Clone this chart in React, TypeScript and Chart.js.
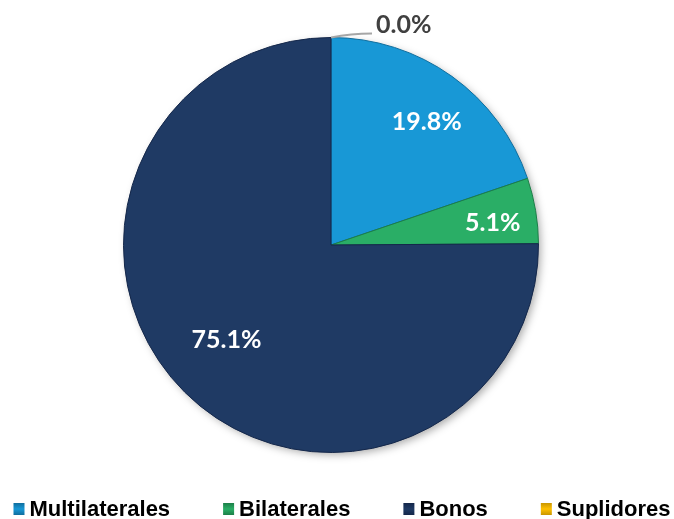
import React, { useEffect, useRef } from "react";
import { Chart, registerables } from "chart.js";

Chart.register(...registerables);

const categories = ["Multilaterales", "Bilaterales", "Bonos", "Suplidores"];
const shares = [19.8, 5.1, 75.1, 0.0];
const valueLabels = ["19.8%", "5.1%", "75.1%", "0.0%"];
const sliceColors = ["#1898D6", "#2AAE66", "#1F3A64", "#FFC000"];
const sliceBorders = ["#0F6E9E", "#1C7F48", "#14274A", "#C99600"];

const labelFractions = [0.75, 0.79, 0.68, 1];
const labelNudges = [
  [5, 3],
  [0, 5],
  [-5, -5],
  [0, 0],
];

const piePlugin = {
  id: "pieDecor",
  beforeDatasetsDraw(chart: any) {
    const meta = chart.getDatasetMeta(0);
    const arc = meta.data[0];
    if (!arc) return;
    const { x, y, outerRadius } = arc.getProps(["x", "y", "outerRadius"], true);
    const ctx = chart.ctx;
    ctx.save();
    ctx.shadowColor = "rgba(0,0,0,0.35)";
    ctx.shadowBlur = 8;
    ctx.shadowOffsetX = 3;
    ctx.shadowOffsetY = 3;
    ctx.beginPath();
    ctx.arc(x, y, outerRadius - 1, 0, Math.PI * 2);
    ctx.fillStyle = "#1F3A64";
    ctx.fill();
    ctx.restore();
  },
  afterDatasetsDraw(chart: any) {
    const meta = chart.getDatasetMeta(0);
    const ctx = chart.ctx;
    ctx.save();
    ctx.font = "bold 25px Lato, 'Open Sans', sans-serif";
    ctx.textBaseline = "middle";
    meta.data.forEach((el: any, i: number) => {
      const { x, y, startAngle, endAngle, outerRadius } = el.getProps(
        ["x", "y", "startAngle", "endAngle", "outerRadius"],
        true
      );
      const mid = (startAngle + endAngle) / 2;
      if (shares[i] > 0) {
        const r = outerRadius * labelFractions[i];
        ctx.fillStyle = "#FFFFFF";
        ctx.textAlign = "center";
        ctx.fillText(
          valueLabels[i],
          x + r * Math.cos(mid) + labelNudges[i][0],
          y + r * Math.sin(mid) + labelNudges[i][1]
        );
      } else {
        const sx = x + outerRadius * Math.cos(mid);
        const sy = y + outerRadius * Math.sin(mid);
        ctx.strokeStyle = "#A6A6A6";
        ctx.lineWidth = 2;
        ctx.beginPath();
        ctx.moveTo(sx, sy);
        ctx.quadraticCurveTo(sx + 20, sy - 4, sx + 41, sy - 4);
        ctx.stroke();
        ctx.fillStyle = "#404040";
        ctx.textAlign = "left";
        ctx.fillText(valueLabels[i], sx + 45, sy - 13);
      }
    });
    ctx.restore();
  },
  afterDraw(chart: any) {
    const ctx = chart.ctx;
    ctx.save();
    ctx.font = "bold 22px 'Liberation Sans', Arial, sans-serif";
    ctx.textBaseline = "alphabetic";
    ctx.textAlign = "left";
    const box = 11;
    const boxGap = 5;
    const itemGap = 53;
    const widths = categories.map((c) => box + boxGap + ctx.measureText(c).width);
    const total = widths.reduce((a, b) => a + b, 0) + itemGap * (categories.length - 1);
    let cx = 342 - total / 2;
    const baseY = 516;
    categories.forEach((c, i) => {
      const by = baseY - 13;
      const g = ctx.createLinearGradient(0, by, 0, by + 12);
      g.addColorStop(0, sliceBorders[i]);
      g.addColorStop(0.5, sliceColors[i]);
      g.addColorStop(1, sliceBorders[i]);
      ctx.fillStyle = g;
      ctx.fillRect(cx, by, box, 12);
      ctx.fillStyle = "#000000";
      ctx.fillText(c, cx + box + boxGap, baseY);
      cx += widths[i] + itemGap;
    });
    ctx.restore();
  },
};

export default function App() {
  const ref = useRef<HTMLCanvasElement | null>(null);
  useEffect(() => {
    if (!ref.current) return;
    const chart = new Chart(ref.current, {
      type: "pie",
      data: {
        labels: categories,
        datasets: [
          {
            data: shares,
            backgroundColor: sliceColors,
            borderColor: sliceBorders,
            borderWidth: 1,
          },
        ],
      },
      options: {
        responsive: false,
        animation: false,
        layout: { padding: { left: 123, top: 37, right: 135, bottom: 66 } },
        plugins: {
          legend: { display: false },
          tooltip: { enabled: false },
          title: { display: false },
        },
      },
      plugins: [piePlugin],
    });
    return () => chart.destroy();
  }, []);
  return (
    <div style={{ position: "absolute", left: 0, top: 0, width: 674, height: 519, background: "#fff" }}>
      <canvas ref={ref} width={674} height={519} />
    </div>
  );
}
